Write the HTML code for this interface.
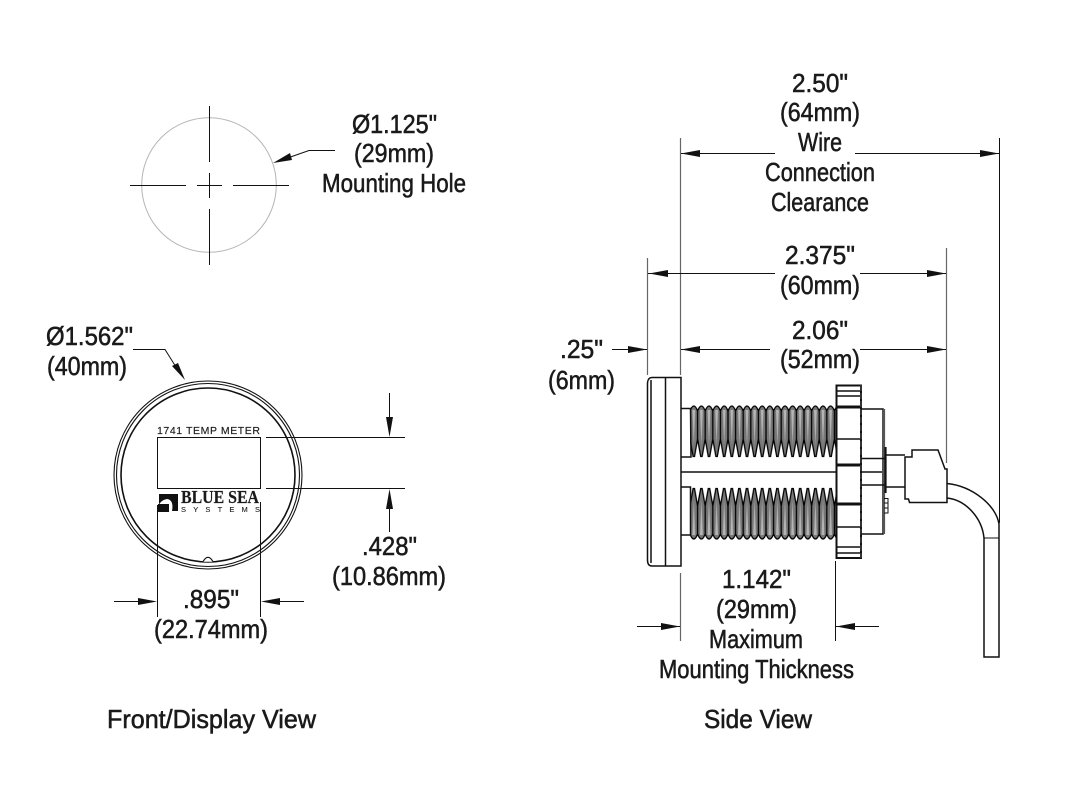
<!DOCTYPE html>
<html><head><meta charset="utf-8"><style>
html,body{margin:0;padding:0;background:#fff;width:1073px;height:785px;overflow:hidden}
svg{display:block}
text{font-family:"Liberation Sans",sans-serif;font-size:26px;fill:#1a1a1a;stroke:#1a1a1a;stroke-width:.55px}
.k{stroke:#111;stroke-width:1;fill:none}
.g{stroke:#666;stroke-width:1.2;fill:none}
.h{stroke:#111;stroke-width:1.5;fill:none}
.a{fill:#111;stroke:none}
</style></head><body>
<svg width="1073" height="785" viewBox="0 0 1073 785" xmlns="http://www.w3.org/2000/svg">
<defs>
<g id="tooth">
<path d="M0 6Q3.800-4 7.600 6V34L4.500 52H3.100L0 34Z" fill="#777"/>
<path d="M0 6Q3.800-4 7.600 6M0 5V34L3.100 51.500H4.500L7.600 34V5" fill="none" stroke="#000" stroke-width="1.300"/>
<path d="M2.400 5L3.800 40L5.200 5Z" fill="#b5b5b5"/>
</g>
<pattern id="t1" patternUnits="userSpaceOnUse" x="690" y="405" width="7.6" height="53"><use href="#tooth"/></pattern>
<pattern id="t2" patternUnits="userSpaceOnUse" x="690" y="487" width="7.6" height="53"><use href="#tooth" transform="translate(0 53) scale(1 -1)"/></pattern>
</defs>

<!-- mounting hole -->
<circle cx="209" cy="185" r="67.3" fill="none" stroke="#b5b5b5" stroke-width="1"/>
<path class="k" d="M209.500 106V162M209.500 173V198M209.500 209V265M130 185.500H186M197 185.500H222M233 185.500H289"/>
<path class="k" d="M335 150.500H309L289 157.500"/>
<polygon class="a" points="273,163 290,153 292,160"/>

<!-- front view -->
<circle cx="208" cy="475" r="94" fill="none" stroke="#111" stroke-width="1.1"/>
<circle cx="208" cy="475" r="91.500" fill="none" stroke="#111" stroke-width="1.1"/>
<circle cx="208" cy="475" r="87" fill="none" stroke="#111" stroke-width="1.6"/>
<path d="M203 561.700Q208 553 213 561.700" fill="#fff" stroke="#111" stroke-width="1.1"/>
<rect x="157.500" y="437.500" width="103" height="51" fill="none" stroke="#111" stroke-width="1"/>
<text x="157" y="434" textLength="103" lengthAdjust="spacing" style="font-size:10.5px;stroke-width:.15px">1741 TEMP METER</text>
<path d="M159 510V494H178V511H172Q174 500 167 499Q161 500 159 505Z" fill="#111"/>
<path d="M158 512V504H169V512Z" fill="#111"/>
<text x="181" y="503" textLength="78" lengthAdjust="spacingAndGlyphs" style="font-family:'Liberation Serif',serif;font-weight:bold;font-size:18px;stroke-width:.2px">BLUE SEA</text>
<text x="181" y="512" textLength="79" style="font-size:7.500px;stroke-width:.1px">SYSTEMS</text>
<path class="k" d="M266 437.500H405M266 488.500H405M157.500 505V617M260.500 502V617"/>
<path class="k" d="M389.500 393V418M389.500 508V532M114 601.500H140M278 601.500H304"/>
<polygon class="a" points="389.500,437 386,417 393,417"/>
<polygon class="a" points="389.500,489 386,509 393,509"/>
<polygon class="a" points="157,601.500 138,598 138,605"/>
<polygon class="a" points="261,601.500 280,598 280,605"/>
<path class="k" d="M133 349.500H165L176 367"/>
<polygon class="a" points="185,380 172,366 178,363"/>

<!-- side view dims -->
<path class="g" d="M680.500 138V375M946.500 248V463M647.500 258V375M680.500 573V641"/>
<path class="k" d="M999.500 138V523M835.500 561V641"/>
<path class="k" stroke="#333" d="M681 153.500H775M855 153.500H999M648 273.500H775M860 273.500H946M681 349.500H770M860 349.500H946M612 349.500H647M637 626.500H680M836 626.500H879"/>
<g class="a">
<polygon points="681,153.500 700,150 700,157"/><polygon points="999,153.500 980,150 980,157"/>
<polygon points="649,273.500 668,270 668,277"/><polygon points="946,273.500 927,270 927,277"/>
<polygon points="681,349.500 700,346 700,353"/><polygon points="946,349.500 927,346 927,353"/>
<polygon points="647,349.500 628,346 628,353"/>
<polygon points="680,626.500 661,623 661,630"/><polygon points="836,626.500 855,623 855,630"/>
</g>

<!-- threads -->
<rect x="690" y="405" width="146" height="53" fill="url(#t1)"/>
<rect x="690" y="487" width="146" height="53" fill="url(#t2)"/>

<!-- flange -->
<path class="h" d="M652 377.500H681V566H652Q647.500 566 647.500 560V384Q647.500 377.500 652 377.500ZM651 380V563M665.500 377.500V566"/>
<path class="h" d="M681 408.500H690.500L691 457H681M681 487H690.500V535H681"/>
<path class="h" d="M681 472H836"/>

<!-- nut -->
<rect x="836.500" y="385.500" width="24.500" height="172.500" fill="#fff" stroke="#111" stroke-width="2"/>
<path class="h" d="M837 391H861M837 396H861M837 547H861M837 553H861M837 439H861M837 527H861"/>
<path d="M836 407H861M836 465H861M836 504H861" stroke="#111" stroke-width="3" fill="none"/>
<path d="M861 385V558" stroke="#333" stroke-width="2" stroke-dasharray="6 2" fill="none"/>

<!-- body -->
<path class="h" d="M861 409H883V534H861"/>
<path d="M884 409V534" stroke="#555" stroke-width="2.200" fill="none"/>
<path class="h" d="M861 458.500H885M861 472H882M861 485H885"/>
<path d="M885.500 447V493" stroke="#111" stroke-width="2.200" fill="none"/>
<path class="k" d="M884 498.500H888V513H884M884 503H888M884 508H888"/>

<!-- connector -->
<path class="h" d="M886 455H905M886 487H905"/>
<path class="h" d="M905 457V499H908.500L909.500 502.500H947V469H945L938 450H912V457Z" fill="#fff"/>
<!-- wire -->
<path class="h" d="M947 483.500C972 486 996 505 999 524V657H984V538C982 518 966 500 947 498"/>
<path class="k" d="M984 538H999"/>

<!-- labels -->
<text x="792" y="92" textLength="56" lengthAdjust="spacingAndGlyphs">2.50"</text>
<text x="780" y="121" textLength="80" lengthAdjust="spacingAndGlyphs">(64mm)</text>
<text x="798" y="151" textLength="44" lengthAdjust="spacingAndGlyphs">Wire</text>
<text x="765" y="181" textLength="110" lengthAdjust="spacingAndGlyphs">Connection</text>
<text x="771" y="211" textLength="98" lengthAdjust="spacingAndGlyphs">Clearance</text>
<text x="785" y="264" textLength="70" lengthAdjust="spacingAndGlyphs">2.375"</text>
<text x="780" y="294" textLength="80" lengthAdjust="spacingAndGlyphs">(60mm)</text>
<text x="792" y="339" textLength="56" lengthAdjust="spacingAndGlyphs">2.06"</text>
<text x="780" y="368" textLength="80" lengthAdjust="spacingAndGlyphs">(52mm)</text>
<text x="560" y="358" textLength="43" lengthAdjust="spacingAndGlyphs">.25"</text>
<text x="548" y="389" textLength="67" lengthAdjust="spacingAndGlyphs">(6mm)</text>
<text x="722" y="588" textLength="69" lengthAdjust="spacingAndGlyphs">1.142"</text>
<text x="716" y="618" textLength="81" lengthAdjust="spacingAndGlyphs">(29mm)</text>
<text x="709" y="648" textLength="94" lengthAdjust="spacingAndGlyphs">Maximum</text>
<text x="659" y="678" textLength="195" lengthAdjust="spacingAndGlyphs">Mounting Thickness</text>
<text x="704" y="728" textLength="108" lengthAdjust="spacingAndGlyphs">Side View</text>
<text x="107" y="728" textLength="209" lengthAdjust="spacingAndGlyphs">Front/Display View</text>
<text x="352" y="133" textLength="85" lengthAdjust="spacingAndGlyphs">Ø1.125"</text>
<text x="354" y="162" textLength="80" lengthAdjust="spacingAndGlyphs">(29mm)</text>
<text x="322" y="192" textLength="144" lengthAdjust="spacingAndGlyphs">Mounting Hole</text>
<text x="46" y="345" textLength="87" lengthAdjust="spacingAndGlyphs">Ø1.562"</text>
<text x="47" y="375" textLength="80" lengthAdjust="spacingAndGlyphs">(40mm)</text>
<text x="362" y="555" textLength="55" lengthAdjust="spacingAndGlyphs">.428"</text>
<text x="332" y="585" textLength="114" lengthAdjust="spacingAndGlyphs">(10.86mm)</text>
<text x="183" y="608" textLength="56" lengthAdjust="spacingAndGlyphs">.895"</text>
<text x="154" y="638" textLength="114" lengthAdjust="spacingAndGlyphs">(22.74mm)</text>
</svg>
</body></html>
